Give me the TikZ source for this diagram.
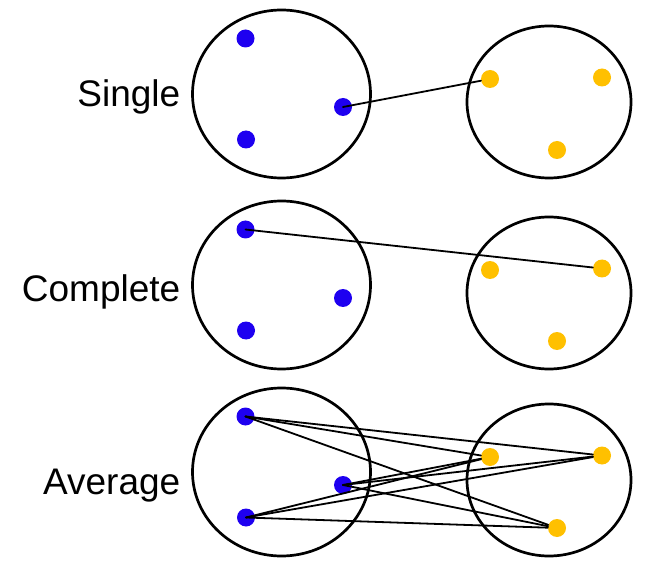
\documentclass[tikz,border=0pt]{standalone}
\usepackage{fontspec}
\setmainfont{Liberation Sans}
\definecolor{dotblue}{RGB}{30,0,240}
\definecolor{dotyellow}{RGB}{255,192,0}
\begin{document}
\begin{tikzpicture}[x=1pt, y=-1pt, line cap=round,
                    cluster/.style={line width=2.7pt},
                    bdot/.style={circle, fill=dotblue, inner sep=0pt, minimum size=18pt},
                    ydot/.style={circle, fill=dotyellow, inner sep=0pt, minimum size=18pt},
                    link/.style={line width=1.8pt},
                    lbl/.style={anchor=base east, inner sep=0pt,
                                font=\fontsize{37}{40}\selectfont}
                   ]
\useasboundingbox (0,0) rectangle (651,572);

\foreach \row/\cy/\by/\name [evaluate=\cy as \ry using \cy+8] in
        {s/94/106.7/Single, c/285/301.7/Complete, a/472/494/Average}{
    %clusters
    \draw [cluster] (281.5,\cy) ellipse (89 and 84);
    \draw [cluster] (549,\ry) ellipse (82 and 76);
    %points
    \node [bdot] (\row-b1) at (245.5,\cy-55.5) {};
    \node [bdot] (\row-b2) at (343,\cy+13) {};
    \node [bdot] (\row-b3) at (246,\cy+45.5) {};
    \node [ydot] (\row-y1) at (490,\ry-23) {};
    \node [ydot] (\row-y2) at (602,\ry-24.5) {};
    \node [ydot] (\row-y3) at (557,\ry+48) {};
    %label
    \node [lbl] (\row-lbl) at (180.5,\by) {\name};
}

%Single linkage
\draw [link] (s-b2.center) -- (s-y1);
%Complete linkage
\draw [link] (c-b1.center) -- (c-y2);
%Average linkage
\foreach \i in {1,2,3}
    \foreach \j in {1,2,3}
        \draw [link] (a-b\i.center) -- (a-y\j);
\end{tikzpicture}
\end{document}
